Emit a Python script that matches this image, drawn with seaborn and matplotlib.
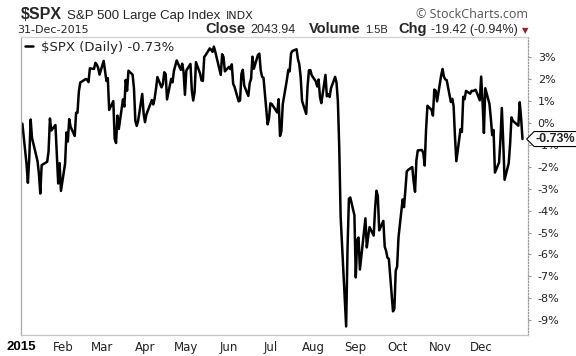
import pandas as pd
import matplotlib
matplotlib.use("Agg")
import matplotlib.pyplot as plt
from matplotlib.path import Path
import seaborn as sns

# trading days of 2015 per month, and the % change vs the 2014 close
jan_days = [2, 5, 6, 7, 8, 9, 12, 13, 14, 15, 16, 20, 21, 22, 23, 26, 27, 28, 29, 30]
jan_pct = [-0.03, -1.86, -2.73, -1.60, 0.16, -0.68, -1.49, -1.74, -2.31, -3.22, -1.92, -1.77, -1.30, 0.21, -0.34, -0.09, -1.43, -2.76, -1.83, -3.10]
feb_days = [2, 3, 4, 5, 6, 9, 10, 11, 12, 13, 17, 18, 19, 20, 23, 24, 25, 26, 27]
feb_pct = [-1.85, -0.43, -0.84, 0.18, -0.17, -0.59, 0.47, 0.47, 1.44, 1.85, 2.01, 1.98, 1.87, 2.50, 2.47, 2.75, 2.67, 2.52, 2.21]
mar_days = [2, 3, 4, 5, 6, 9, 10, 11, 12, 13, 16, 17, 18, 19, 20, 23, 24, 25, 26, 27, 30, 31]
mar_pct = [2.84, 2.37, 1.92, 2.05, 0.60, 1.00, -0.72, -0.91, 0.34, -0.27, 1.08, 0.75, 1.97, 1.48, 2.39, 2.21, 1.58, 0.10, -0.13, 0.10, 1.33, 0.44]
apr_days = [1, 2, 6, 7, 8, 9, 10, 13, 14, 15, 16, 17, 20, 21, 22, 23, 24, 27, 28, 29, 30]
apr_pct = [0.04, 0.39, 1.05, 0.85, 1.12, 1.57, 2.10, 1.63, 1.79, 2.32, 2.24, 1.08, 2.02, 1.86, 2.38, 2.62, 2.86, 2.43, 2.71, 2.33, 1.29]
may_days = [1, 4, 5, 6, 7, 8, 11, 12, 13, 14, 15, 18, 19, 20, 21, 22, 26, 27, 28, 29]
may_pct = [2.40, 2.70, 1.48, 1.03, 1.41, 2.78, 2.26, 1.95, 1.92, 3.02, 3.10, 3.41, 3.35, 3.25, 3.49, 3.26, 2.20, 3.14, 3.01, 2.36]
jun_days = [1, 2, 3, 4, 5, 8, 9, 10, 11, 12, 15, 16, 17, 18, 19, 22, 23, 24, 25, 26, 29, 30]
jun_pct = [2.57, 2.46, 2.68, 1.79, 1.65, 0.99, 1.03, 2.25, 2.43, 1.71, 1.24, 1.82, 2.02, 3.03, 2.48, 3.11, 3.17, 2.41, 2.11, 2.07, -0.06, 0.20]
jul_days = [1, 2, 6, 7, 8, 9, 10, 13, 14, 15, 16, 17, 20, 21, 22, 23, 24, 27, 28, 29, 30, 31]
jul_pct = [0.90, 0.87, 0.48, 1.09, -0.59, -0.37, 0.86, 1.98, 2.43, 2.36, 3.18, 3.29, 3.37, 2.93, 2.68, 2.10, 1.01, 0.42, 1.67, 2.41, 2.42, 2.18]
aug_days = [3, 4, 5, 6, 7, 10, 11, 12, 13, 14, 17, 18, 19, 20, 21, 24, 25, 26, 27, 28, 31]
aug_pct = [1.90, 1.67, 1.99, 1.20, 0.91, 2.20, 1.22, 1.32, 1.19, 1.59, 2.11, 1.85, 1.01, -1.13, -4.27, -8.05, -9.29, -5.75, -3.46, -3.40, -4.21]
sep_days = [1, 2, 3, 4, 8, 9, 10, 11, 14, 15, 16, 17, 18, 21, 22, 23, 24, 25, 28, 29, 30]
sep_pct = [-7.05, -5.34, -5.23, -6.69, -4.35, -5.68, -5.18, -4.75, -5.14, -3.92, -3.09, -3.34, -4.90, -4.47, -5.64, -5.84, -6.15, -6.20, -8.60, -8.49, -6.74]
oct_days = [1, 2, 5, 6, 7, 8, 9, 12, 13, 14, 15, 16, 19, 20, 21, 22, 23, 26, 27, 28, 29, 30]
oct_pct = [-6.56, -5.22, -3.49, -3.84, -3.06, -2.21, -2.14, -2.01, -2.68, -3.14, -1.70, -1.25, -1.23, -1.37, -1.94, -0.31, 0.79, 0.60, 0.34, 1.53, 1.48, 0.99]
nov_days = [2, 3, 4, 5, 6, 9, 10, 11, 12, 13, 16, 17, 18, 19, 20, 23, 24, 25, 27, 30]
nov_pct = [2.19, 2.47, 2.11, 1.99, 1.96, 0.96, 1.11, 0.78, -0.63, -1.74, -0.28, -0.41, 1.20, 1.09, 1.47, 1.34, 1.47, 1.46, 1.52, 1.04]
dec_days = [1, 2, 3, 4, 7, 8, 9, 10, 11, 14, 15, 16, 17, 18, 21, 22, 23, 24, 28, 29, 30, 31]
dec_pct = [2.12, 1.00, -0.45, 1.59, 0.88, 0.23, -0.55, -0.32, -2.26, -1.80, -0.75, 0.69, -0.83, -2.59, -1.83, -0.97, 0.26, 0.10, -0.12, 0.95, 0.22, -0.73]

month_labels = ["2015", "Feb", "Mar", "Apr", "May", "Jun", "Jul", "Aug", "Sep", "Oct", "Nov", "Dec"]
y_ticks = [3, 2, 1, 0, -1, -2, -3, -4, -5, -6, -7, -8, -9]
last_pct = -0.73

all_days = [jan_days, feb_days, mar_days, apr_days, may_days, jun_days,
            jul_days, aug_days, sep_days, oct_days, nov_days, dec_days]
all_pct = [jan_pct, feb_pct, mar_pct, apr_pct, may_pct, jun_pct,
           jul_pct, aug_pct, sep_pct, oct_pct, nov_pct, dec_pct]

rows = []
for m, (days, pcts) in enumerate(zip(all_days, all_pct), start=1):
    for d, p in zip(days, pcts):
        rows.append((pd.Timestamp(2015, m, d), p))
df = pd.DataFrame(rows, columns=["date", "pct"])

sns.set_style("white")
plt.rcParams["font.family"] = ["Liberation Sans", "DejaVu Sans"]

W, H = 576, 356
fig = plt.figure(figsize=(W / 100, H / 100), dpi=100)
ax = fig.add_axes([21 / W, 21 / H, 507 / W, 298 / H])

sns.lineplot(data=df, x="date", y="pct", color="black", linewidth=1.8, ax=ax,
             label="\\$SPX (Daily) -0.73%")

ax.set_xlim(pd.Timestamp(2015, 1, 1), pd.Timestamp(2016, 1, 4))
ax.set_ylim(-9.68, 3.93)
ax.set_xlabel("")
ax.set_ylabel("")

ax.set_xticks([pd.Timestamp(2015, m, 1) for m in range(1, 13)])
ax.set_xticklabels(month_labels, family="DejaVu Sans", fontsize=8.5, color="#222222")
first = ax.get_xticklabels()[0]
first.set_fontweight("bold")
first.set_family("Liberation Sans")
first.set_fontsize(9.5)
first.set_color("black")
ax.tick_params(axis="x", direction="out", length=3, color="#999999", pad=1)

ax.yaxis.tick_right()
ax.set_yticks(y_ticks)
ax.set_yticklabels([f"{v}%" for v in y_ticks], family="DejaVu Sans", fontsize=8, color="#222222")
ax.tick_params(axis="y", direction="out", length=2, color="#999999", pad=5)

for side in ["left", "bottom", "top"]:
    ax.spines[side].set_visible(True)
ax.spines["left"].set_color("#aaaaaa")
ax.spines["bottom"].set_color("#c4c4c4")
ax.spines["top"].set_color("#d0d0d0")
ax.spines["right"].set_color("#999999")
ax.spines["right"].set_linestyle((0, (1, 1.5)))
for s in ax.spines.values():
    s.set_linewidth(0.9)

ax.legend(loc="upper left", frameon=False, handlelength=0.6, handletextpad=0.6,
          borderaxespad=0.1, borderpad=0.2, prop={"family": "DejaVu Sans", "size": 9.5})


def tag_box(x0, y0, width, height, mutation_size):
    # box with a pointed left end, like a price tag
    pad = 0.12 * mutation_size
    x0, y0 = x0 - pad, y0 - pad
    width, height = width + 2 * pad, height + 2 * pad
    tip = height / 2
    verts = [(x0 - tip, y0 + tip), (x0, y0), (x0 + width, y0),
             (x0 + width, y0 + height), (x0, y0 + height), (x0 - tip, y0 + tip),
             (x0 - tip, y0 + tip)]
    return Path(verts, closed=True)


# last value tag on the right axis
ax.annotate(f"{last_pct}%", xy=(1, last_pct), xycoords=("axes fraction", "data"),
            xytext=(5.5, 0), textcoords="offset points", ha="left", va="center",
            fontsize=9, fontweight="bold", annotation_clip=False, zorder=5,
            bbox=dict(boxstyle=tag_box, fc="white", ec="black", lw=0.8))


def text_row(pieces, x_right, y_base):
    # lay out pieces left to right on one baseline, ending at x_right (pixels)
    r = fig.canvas.get_renderer()
    items = []
    for s, gap, kw in pieces:
        t = fig.text(0, 1 - y_base / H, s, va="baseline", ha="left", **kw)
        items.append((t, t.get_window_extent(r).width, gap))
    total = sum(w + g for _, w, g in items)
    x = x_right - total
    for t, w, g in items:
        t.set_x(x / W)
        x += w + g


# header
fig.text(21 / W, 1 - 19 / H, "\\$SPX", fontsize=11.5, fontweight="bold", va="baseline")
fig.text(67 / W, 1 - 19 / H, "S&P 500 Large Cap Index", fontsize=9.5, va="baseline")
fig.text(226 / W, 1 - 19 / H, "INDX", fontsize=8, family="DejaVu Sans", va="baseline")
fig.text(528 / W, 1 - 17.5 / H, "\u00a9 StockCharts.com", fontsize=9, family="Open Sans",
         color="#555555", ha="right", va="baseline")
fig.text(17 / W, 1 - 33 / H, "31-Dec-2015", fontsize=8, family="DejaVu Sans", va="baseline")

bold = {"fontsize": 10.5, "fontweight": "bold"}
val = {"fontsize": 9}
text_row([("Close", 5, bold), ("2043.94", 13, val),
          ("Volume", 5, bold), ("1.5B", 10, {"fontsize": 8}),
          ("Chg", 4, bold), ("-19.42 (-0.94%)", 4, val),
          ("\u25bc", 0, {"fontsize": 6, "color": "#9b1b30", "family": "DejaVu Sans"})],
         528, 33)

fig.savefig("out.png", dpi=100, facecolor="white")
